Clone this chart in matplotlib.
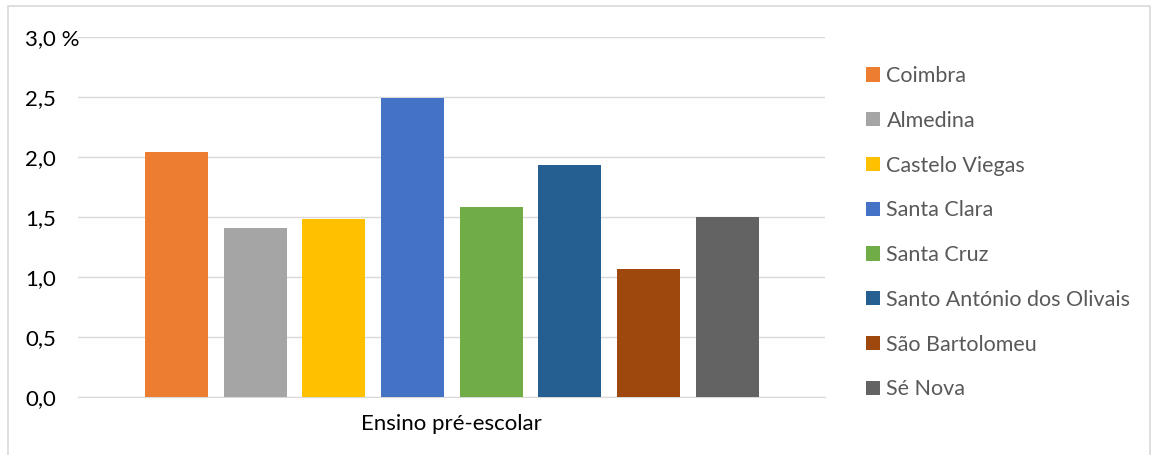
import matplotlib
matplotlib.use("Agg")
import matplotlib.pyplot as plt
from matplotlib.patches import Rectangle

# dados
freguesias = ["Coimbra", "Almedina", "Castelo Viegas", "Santa Clara", "Santa Cruz",
              "Santo António dos Olivais", "São Bartolomeu", "Sé Nova"]
valores = [2.04, 1.41, 1.48, 2.49, 1.58, 1.93, 1.07, 1.50]
cores = ["#ED7D31", "#A5A5A5", "#FFC000", "#4472C4", "#70AD47",
         "#255E91", "#9E480E", "#636363"]
categoria = "Ensino pré-escolar"
yticks = [0.0, 0.5, 1.0, 1.5, 2.0, 2.5, 3.0]
ylabels = ["0,0", "0,5", "1,0", "1,5", "2,0", "2,5", "3,0 %"]

plt.rcParams['font.family'] = ['Lato', 'DejaVu Sans']

fig = plt.figure(figsize=(11.58, 4.55), dpi=100)
ax = fig.add_axes([78 / 1158, 1 - 397 / 455, 747 / 1158, 360 / 455])

handles = []
for i, (nome, v, c) in enumerate(zip(freguesias, valores, cores)):
    b = ax.bar(i, v, width=0.8, color=c, label=nome, zorder=3)
    handles.append(b)

ax.set_xlim(-1.25, 8.24)
ax.set_ylim(0, 3)
ax.set_yticks(yticks)
ax.set_yticklabels(ylabels, fontsize=16, color="#000000", ha="left")
ax.tick_params(axis="y", length=0, pad=38)
ax.set_xticks([3.5])
ax.set_xticklabels([categoria], fontsize=16, color="#000000")
ax.tick_params(axis="x", length=0, pad=12)
ax.grid(axis="y", color="#D9D9D9", linewidth=1, zorder=0)
for s in ["top", "right", "left"]:
    ax.spines[s].set_visible(False)
ax.spines["bottom"].set_color("#D9D9D9")

leg = ax.legend(handles=handles, loc="upper left", bbox_to_anchor=(866 / 1158, 1 - 66 / 455),
                bbox_transform=fig.transFigure, frameon=False, fontsize=15.5,
                handlelength=0.65, handleheight=0.65, handletextpad=0.3,
                labelspacing=1.15, borderpad=0, borderaxespad=0)
for t in leg.get_texts():
    t.set_color("#595959")

# moldura
fig.patches.append(Rectangle((8 / 1158, -0.1), 1142 / 1158, 1.1 - 6 / 455,
                             transform=fig.transFigure, fill=False,
                             edgecolor="#D9D9D9", linewidth=1.2))

fig.savefig("out.png", dpi=100)
